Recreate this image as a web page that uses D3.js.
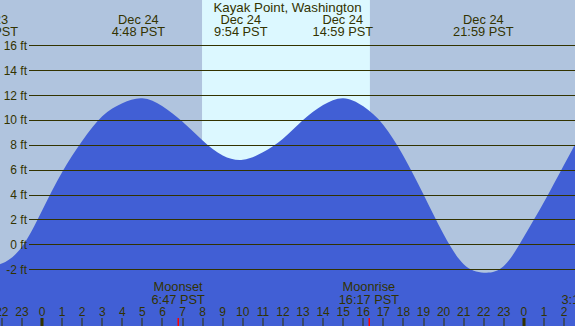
<!DOCTYPE html>
<html>
<head>
<meta charset="utf-8">
<script src="https://cdn.jsdelivr.net/npm/d3@7"></script>
<style>
  body { margin: 0; padding: 0; background: #b0c4de; }
  text { font-family: "Liberation Sans", Arial, sans-serif; font-size: 12px; fill: #333300; }
  .label { font-size: 12.8px; }
</style>
</head>
<body>
<div id="chart"></div>
<script>
// hours are counted from Dec 24 00:00 PST
const title = "Kayak Point, Washington";

// tide extremes (labels at the top)
const extremeHours = [-2.7, 4.8, 9.9, 14.98, 21.98];
const extremeDates = ["Dec 23", "Dec 24", "Dec 24", "Dec 24", "Dec 24"];
const extremeTimes = ["21:18 PST", "4:48 PST", "9:54 PST", "14:59 PST", "21:59 PST"];

// hourly tide heights (ft)
const tideHours = [-3, -2, -1, 0, 1, 2, 3, 4, 5, 6, 7, 8, 9, 10, 11, 12, 13, 14, 15,
  16, 17, 18, 19, 20, 21, 22, 23, 24, 25, 26, 27];
const tideFeet = [-1.9, -1.55, -0.2, 2.7, 5.8, 8.3, 10.3, 11.35, 11.75, 11.1, 9.85, 8.35,
  7.15, 6.8, 7.4, 8.5, 10.0, 11.2, 11.75, 11.1, 9.6, 7.1, 4.0, 0.8, -1.6, -2.28,
  -1.75, 0.6, 3.4, 6.4, 9.4];

// daylight
const sunrise = 7.97;
const sunset = 16.33;

// moon events (bottom labels)
const moonHours = [6.78, 16.28, 27.2];
const moonNames = ["Moonset", "Moonrise", ""];
const moonTimes = ["6:47 PST", "16:17 PST", "3:13 PST"];

// axes
const feetTicks = [-2, 0, 2, 4, 6, 8, 10, 12, 14, 16];
const hourTicks = d3.range(-2, 27);

const width = 575, height = 326;

const x = d3.scaleLinear().domain([-2.0916, 26.544]).range([0, width]);
const y = d3.scaleLinear().domain([0, 16]).range([244.3, 45.4]);

const svg = d3.select("#chart").append("svg")
  .attr("width", width)
  .attr("height", height);

// background
svg.append("rect")
  .attr("width", width).attr("height", height)
  .attr("fill", "#b0c4de");

// DAYLIGHT
svg.append("rect")
  .attr("x", x(sunrise))
  .attr("y", 0)
  .attr("width", x(sunset) - x(sunrise))
  .attr("height", height)
  .attr("fill", "#dcf8ff");

// TIDE AREA
const tideData = tideHours.map((h, i) => ({ h: h, v: tideFeet[i] }));
const area = d3.area()
  .curve(d3.curveNatural)
  .x(d => x(d.h))
  .y0(height)
  .y1(d => y(d.v));

svg.append("path")
  .datum(tideData)
  .attr("d", area)
  .attr("fill", "#415fd5");

// GRID LINES + LABELS
const grid = svg.append("g");
grid.selectAll("line")
  .data(feetTicks)
  .enter()
  .append("line")
  .attr("x1", 29)
  .attr("x2", width)
  .attr("y1", d => Math.round(y(d)) + 0.5)
  .attr("y2", d => Math.round(y(d)) + 0.5)
  .attr("stroke", "#333300")
  .attr("stroke-width", 1);

grid.selectAll("text")
  .data(feetTicks)
  .enter()
  .append("text")
  .attr("x", 27)
  .attr("y", d => y(d) + 4.5)
  .attr("text-anchor", "end")
  .text(d => d + " ft");

// TITLE
svg.append("text")
  .attr("x", width / 2)
  .attr("y", 12)
  .attr("text-anchor", "middle")
  .style("font-size", "13.3px")
  .text(title);

// EXTREME LABELS
const ext = svg.append("g")
  .selectAll("g")
  .data(extremeHours)
  .enter()
  .append("g");

ext.append("text")
  .attr("class", "label")
  .attr("x", d => x(d))
  .attr("y", 24)
  .attr("text-anchor", "middle")
  .text((d, i) => extremeDates[i]);

ext.append("text")
  .attr("class", "label")
  .attr("x", d => x(d))
  .attr("y", 36)
  .attr("text-anchor", "middle")
  .text((d, i) => extremeTimes[i]);

// MOON LABELS
const moon = svg.append("g")
  .selectAll("g")
  .data(moonHours)
  .enter()
  .append("g");

moon.append("text")
  .attr("class", "label")
  .attr("x", d => x(d))
  .attr("y", 291)
  .attr("text-anchor", "middle")
  .text((d, i) => moonNames[i]);

moon.append("text")
  .attr("class", "label")
  .attr("x", d => x(d))
  .attr("y", 304)
  .attr("text-anchor", "middle")
  .text((d, i) => moonTimes[i]);

// HOUR AXIS
const hours = svg.append("g");
hours.selectAll("text")
  .data(hourTicks)
  .enter()
  .append("text")
  .attr("x", d => x(d))
  .attr("y", 316)
  .attr("text-anchor", "middle")
  .text(d => ((d % 24) + 24) % 24);

hours.selectAll("rect")
  .data(hourTicks)
  .enter()
  .append("rect")
  .attr("x", d => Math.round(x(d)) - (d % 24 === 0 ? 1.5 : 0.5))
  .attr("y", 318)
  .attr("width", d => (d % 24 === 0 ? 3 : 1))
  .attr("height", 8)
  .attr("fill", "#333300");

// moon event ticks
svg.append("g")
  .selectAll("rect")
  .data(moonHours)
  .enter()
  .append("rect")
  .attr("x", d => Math.round(x(d)) - 0.5)
  .attr("y", 318)
  .attr("width", 1.5)
  .attr("height", 8)
  .attr("fill", "#ff0000");
</script>
</body>
</html>
